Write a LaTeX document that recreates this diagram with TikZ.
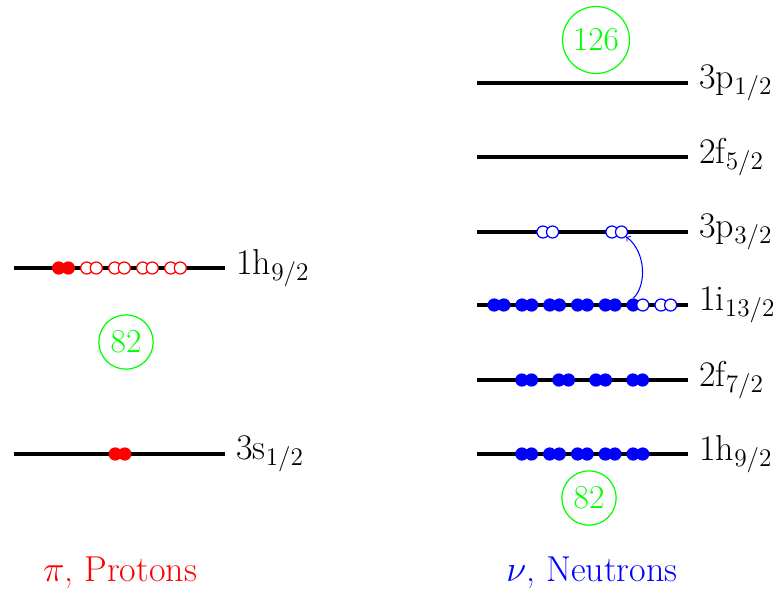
\documentclass[tikz,border=0pt]{standalone}
\begin{document}
\begin{tikzpicture}[x=0.02cm,y=-0.02cm,
  lvl/.style={line width=1.9pt, line cap=butt},
  lbl/.style={anchor=west, inner sep=0pt, font=\fontsize{20.5}{24}\selectfont},
  ttl/.style={inner sep=0pt, font=\fontsize{20.5}{24}\selectfont},
  part/.style={circle, minimum size=2.4mm, inner sep=0pt, line width=0.7pt},
  pfull/.style={part, draw=red, fill=red},
  pempty/.style={part, draw=red, fill=white},
  nfull/.style={part, draw=blue, fill=blue},
  nempty/.style={part, draw=blue, fill=white},
  magic/.style={circle, draw=green, text=green, inner sep=3.3pt, line width=0.7pt, font=\fontsize{19}{23}\selectfont},
  jump/.style={->, blue, line width=0.6pt}
]
\useasboundingbox (0,0) rectangle (780,593);

% ---------- Protons ----------
\coordinate (pa1) at (14,268);  \coordinate (pb1) at (225,268);
\coordinate (pa2) at (14,454);  \coordinate (pb2) at (225,454);
\draw[lvl] (pa1) -- (pb1);
\draw[lvl] (pa2) -- (pb2);
\node[lbl] (pl1) at ([xshift=2.2mm]pb1) {1h$_{9/2}$};
\node[lbl] (pl2) at ([xshift=2.2mm]pb2) {3s$_{1/2}$};

\node[pfull] (ph1) at (58.7,268) {};
\node[pfull] (ph2) at (68.3,268) {};
\foreach \c [count=\k] in {91.5,119.5,147.5,175.5}{
  \node[pempty] (phe\k a) at (\c-4.8,268) {};
  \node[pempty] (phe\k b) at (\c+4.8,268) {};
}
\node[pfull] (ps1) at (115.2,454) {};
\node[pfull] (ps2) at (124.8,454) {};

\node[magic] (m82p) at (126,342) {82};
\node[ttl, text=red] (ptitle) at (120,573) {$\pi$, Protons};

% ---------- Neutrons ----------
\foreach \y/\n/\t in {83/1/3p$_{1/2}$, 157/2/2f$_{5/2}$, 232/3/3p$_{3/2}$, 305/4/1i$_{13/2}$, 380/5/2f$_{7/2}$, 454/6/1h$_{9/2}$}{
  \coordinate (na\n) at (477,\y);
  \coordinate (nb\n) at (688,\y);
  \draw[lvl] (na\n) -- (nb\n);
  \node[lbl] (nl\n) at ([xshift=2.2mm]nb\n) {\t};
}

% 3p3/2 holes
\foreach \c [count=\k] in {547.7,616.7}{
  \node[nempty] (np\k a) at (\c-4.8,232) {};
  \node[nempty] (np\k b) at (\c+4.8,232) {};
}
% 1i13/2
\foreach \c [count=\k] in {499,526.8,554.6,582.4,610.2}{
  \node[nfull] (ni\k a) at (\c-4.8,305) {};
  \node[nfull] (ni\k b) at (\c+4.8,305) {};
}
\node[nfull] (ni6a) at (633.2,305) {};
\node[nempty] (ni6b) at (642.8,305) {};
\node[nempty] (ni7a) at (661,305) {};
\node[nempty] (ni7b) at (670.6,305) {};
% 2f7/2
\foreach \c [count=\k] in {526.7,563.7,600.7,637.7}{
  \node[nfull] (nf\k a) at (\c-4.8,380) {};
  \node[nfull] (nf\k b) at (\c+4.8,380) {};
}
% 1h9/2
\foreach \c [count=\k] in {526.7,554.5,582.3,610.1,637.9}{
  \node[nfull] (nh\k a) at (\c-4.8,454) {};
  \node[nfull] (nh\k b) at (\c+4.8,454) {};
}

\draw[jump] (ni6a.north) .. controls (647,285) and (646,252) .. (np2b.south east);

\node[magic] (m126) at (596,40) {126};
\node[magic] (m82n) at (589,498) {82};
\node[ttl, text=blue] (ntitle) at (592,573) {$\nu$, Neutrons};
\end{tikzpicture}
\end{document}
